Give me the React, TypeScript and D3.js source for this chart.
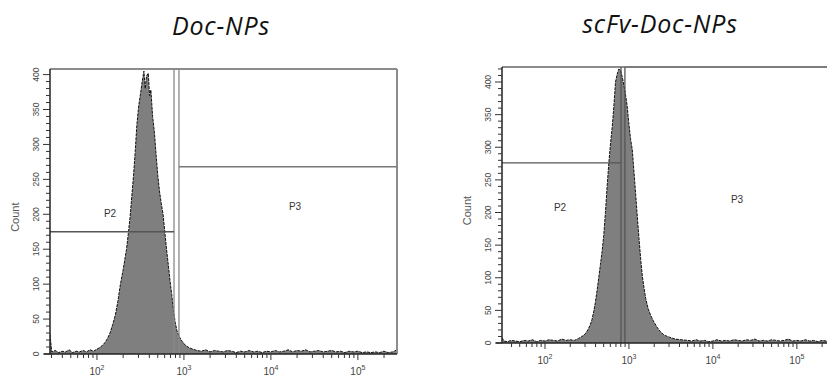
import React from "react";
import * as d3 from "d3";

// ---- data ----
const titles = ["Doc-NPs", "scFv-Doc-NPs"];

// log10 fluorescence (bin centre exponent) and counts, Doc-NPs
const docLog = [
  1.46, 1.48, 1.52, 1.56, 1.6, 1.64, 1.68, 1.72, 1.76, 1.8, 1.84, 1.88, 1.92, 1.96,
  2.0, 2.03, 2.06, 2.09, 2.12, 2.15, 2.18, 2.21, 2.24, 2.27, 2.3, 2.32, 2.34, 2.36,
  2.38, 2.4, 2.42, 2.44, 2.46, 2.48, 2.5, 2.52, 2.54, 2.555, 2.57, 2.59, 2.605, 2.62,
  2.64, 2.66, 2.68, 2.7, 2.72, 2.74, 2.76, 2.78, 2.8, 2.82, 2.84, 2.86, 2.88, 2.9,
  2.92, 2.95, 2.98, 3.02, 3.06, 3.1, 3.15, 3.2, 3.25, 3.3, 3.35, 3.4, 3.45, 3.5,
  3.55, 3.6, 3.65, 3.7, 3.75, 3.8, 3.85, 3.9, 3.95, 4.0, 4.05, 4.1, 4.15, 4.2, 4.25,
  4.3, 4.35, 4.4, 4.45, 4.5, 4.55, 4.6, 4.65, 4.7, 4.75, 4.8, 4.85, 4.9, 4.95, 5.0,
  5.05, 5.1, 5.15, 5.2, 5.25, 5.3, 5.35, 5.4, 5.45,
];
const docCount = [
  28, 3, 5, 2, 4, 3, 6, 2, 4, 3, 5, 3, 6, 4,
  7, 9, 12, 16, 22, 30, 42, 55, 75, 100, 120, 135, 150, 172,
  195, 225, 255, 290, 330, 355, 372, 390, 405, 380, 398, 402, 370, 378,
  340, 318, 285, 255, 232, 215, 200, 175, 150, 128, 105, 85, 62, 45,
  33, 24, 18, 12, 9, 7, 5, 4, 6, 3, 5, 4, 3, 5,
  4, 2, 4, 3, 5, 3, 4, 2, 4, 3, 5, 3, 4, 6, 3,
  5, 4, 6, 3, 4, 5, 3, 4, 5, 3, 4, 2, 4, 3, 4,
  2, 3, 2, 3, 2, 4, 2, 3, 6,
];

// scFv-Doc-NPs
const scfvLog = [
  1.49, 1.51, 1.55, 1.6, 1.65, 1.7, 1.75, 1.8, 1.85, 1.9, 1.95, 2.0, 2.05, 2.1,
  2.15, 2.2, 2.25, 2.3, 2.35, 2.4, 2.44, 2.48, 2.51, 2.54, 2.56, 2.58, 2.6, 2.62,
  2.64, 2.66, 2.68, 2.7, 2.72, 2.74, 2.76, 2.78, 2.8, 2.82, 2.84, 2.86, 2.88, 2.9,
  2.92, 2.94, 2.96, 2.98, 3.0, 3.02, 3.04, 3.06, 3.08, 3.1, 3.12, 3.14, 3.16, 3.18,
  3.2, 3.23, 3.26, 3.29, 3.33, 3.37, 3.42, 3.48, 3.55, 3.62, 3.7, 3.75, 3.8, 3.85,
  3.9, 3.95, 4.0, 4.05, 4.1, 4.15, 4.2, 4.25, 4.3, 4.35, 4.4, 4.45, 4.5, 4.55, 4.6,
  4.65, 4.7, 4.75, 4.8, 4.85, 4.9, 4.95, 5.0, 5.05, 5.1, 5.15, 5.2, 5.25, 5.3, 5.35,
  5.4, 5.45,
];
const scfvCount = [
  8, 3, 2, 4, 3, 2, 4, 3, 5, 2, 4, 3, 5, 4,
  3, 6, 4, 5, 4, 7, 10, 14, 20, 28, 36, 48, 62, 80,
  100, 120, 140, 165, 200, 240, 275, 305, 330, 362, 400, 412, 420, 418,
  408, 395, 380, 362, 335, 312, 296, 262, 228, 193, 160, 128, 102, 84,
  68, 52, 42, 34, 25, 18, 12, 9, 6, 5, 4, 3, 5, 3,
  4, 2, 3, 5, 3, 4, 3, 5, 4, 3, 5, 4, 6, 3, 4,
  3, 5, 4, 3, 4, 6, 3, 4, 3, 5, 3, 4, 2, 4, 3,
  2, 4,
];

const yTickValues = [0, 50, 100, 150, 200, 250, 300, 350, 400];
const xDecades = [2, 3, 4, 5];
const gateP2Count = [175, 276];
const gateP3Count = [268, 423];
const gateLeftLog = [2.886, 2.905];
const gateRightLog = [2.943, 2.952];

// ---- layout ----
const W = 827;
const H = 381;
const panels = [
  { left: 50, top: 69, width: 347, height: 285, logMin: 1.46, logMax: 5.45, yMax: 408, titleX: 221, titleY: 35, p2: [110, 217], p3: [295, 210], gateColor: "#8a8a8a" },
  { left: 502, top: 67, width: 336, height: 276, logMin: 1.488, logMax: 5.49, yMax: 423, titleX: 660, titleY: 33, p2: [560, 211], p3: [737, 203], gateColor: "#555" },
];
const series = [
  { logs: docLog, counts: docCount },
  { logs: scfvLog, counts: scfvCount },
];

function Panel({ i }: { i: number }) {
  const p = panels[i];
  const s = series[i];
  const x = d3.scaleLog().domain([10 ** p.logMin, 10 ** p.logMax]).range([p.left, p.left + p.width]);
  const y = d3.scaleLinear().domain([0, p.yMax]).range([p.top + p.height, p.top]);
  const pts = s.logs.map((l, k) => ({ v: 10 ** l, c: s.counts[k] }));
  const area = d3.area<{ v: number; c: number }>().x((d) => x(d.v)).y0(y(0)).y1((d) => y(d.c));
  const line = d3.line<{ v: number; c: number }>().x((d) => x(d.v)).y((d) => y(d.c));
  const bottom = p.top + p.height;
  const right = p.left + p.width;

  // x ticks
  const xt: { v: number; major: boolean }[] = [];
  for (let d = 1; d <= 5; d++) {
    for (let k = 1; k <= 9; k++) {
      const v = k * 10 ** d;
      const lv = Math.log10(v);
      if (lv >= p.logMin - 1e-9 && lv <= p.logMax) xt.push({ v, major: k === 1 });
    }
  }
  const yMinor = d3.range(0, p.yMax + 0.1, 10);
  const clipId = `clip${i}`;
  const gx1 = x(10 ** gateLeftLog[i]);
  const gx2 = x(10 ** gateRightLog[i]);
  const sans = "'Liberation Sans', Arial, sans-serif";

  return (
    <g>
      <text x={p.titleX} y={p.titleY} textAnchor="middle" fontFamily="'Open Sans', sans-serif" fontStyle="italic" fontSize={25} letterSpacing={0.8} fill="#111">
        {titles[i]}
      </text>
      <defs>
        <clipPath id={clipId}>
          <rect x={p.left} y={p.top} width={p.width} height={p.height} />
        </clipPath>
      </defs>
      <g clipPath={`url(#${clipId})`}>
        <path d={area(pts) || ""} fill="#7f7f7f" />
        <path d={line(pts) || ""} fill="none" stroke="#111" strokeWidth={1} strokeDasharray="3 1" />
      </g>
      {/* frame */}
      <line x1={p.left} x2={right} y1={p.top} y2={p.top} stroke="#8c8c8c" strokeWidth={2} />
      <line x1={right} x2={right} y1={p.top} y2={bottom} stroke="#8c8c8c" strokeWidth={2} />
      {/* gates */}
      <line x1={gx1} x2={gx1} y1={p.top} y2={bottom} stroke={p.gateColor} strokeWidth={1.3} />
      <line x1={gx2} x2={gx2} y1={p.top} y2={bottom} stroke={p.gateColor} strokeWidth={1.3} />
      <line x1={p.left} x2={gx1} y1={y(gateP2Count[i])} y2={y(gateP2Count[i])} stroke="#555" strokeWidth={1.4} />
      <line x1={gx2} x2={right} y1={y(gateP3Count[i])} y2={y(gateP3Count[i])} stroke="#777" strokeWidth={1.4} />
      <text x={p.p2[0]} y={p.p2[1]} textAnchor="middle" fontFamily={sans} fontSize={10} fill="#333">P2</text>
      <text x={p.p3[0]} y={p.p3[1]} textAnchor="middle" fontFamily={sans} fontSize={10} fill="#333">P3</text>
      {/* axes */}
      <line x1={p.left} x2={p.left} y1={p.top} y2={bottom} stroke="#222" strokeWidth={1.5} />
      <line x1={p.left - 6} x2={right} y1={bottom} y2={bottom} stroke="#222" strokeWidth={1.3} />
      {yMinor.map((v) => (
        <line key={`ym${v}`} x1={p.left - (v % 50 === 0 ? 7 : 4)} x2={p.left} y1={y(v)} y2={y(v)} stroke="#333" strokeWidth={1} />
      ))}
      {yTickValues.map((v) => (
        <text
          key={`yl${v}`}
          transform={`translate(${p.left - 11},${y(v)}) rotate(-90)`}
          textAnchor="middle"
          fontFamily={sans}
          fontSize={8.5}
          fill="#444"
        >
          {v}
        </text>
      ))}
      <text
        transform={`translate(${p.left - 31},${p.top + p.height * 0.52}) rotate(-90)`}
        textAnchor="middle"
        fontFamily={sans}
        fontSize={11}
        fill="#555"
      >
        Count
      </text>
      {xt.map((t, k) => (
        <line key={`xt${k}`} x1={x(t.v)} x2={x(t.v)} y1={bottom} y2={bottom + (t.major ? 6 : 4)} stroke="#333" strokeWidth={1} />
      ))}
      {xDecades.map((d) => (
        <text key={`xl${d}`} x={x(10 ** d)} y={bottom + 21} textAnchor="middle" fontFamily={sans} fontSize={10} fill="#444">
          10
          <tspan dy={-5} fontSize={7}>{d}</tspan>
        </text>
      ))}
    </g>
  );
}

export default function App() {
  return (
    <div style={{ position: "fixed", left: 0, top: 0 }}>
      <svg width={W} height={H} viewBox={`0 0 ${W} ${H}`} style={{ display: "block", background: "#fff" }}>
        <rect width={W} height={H} fill="#fff" />
        <Panel i={0} />
        <Panel i={1} />
      </svg>
    </div>
  );
}
